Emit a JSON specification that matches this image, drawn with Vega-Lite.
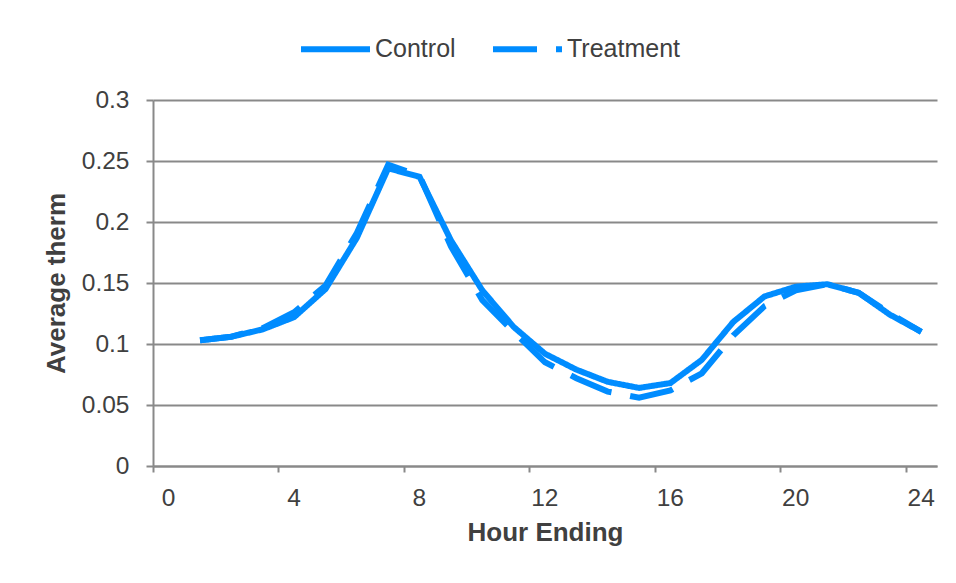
{
  "$schema": "https://vega.github.io/schema/vega-lite/v6.json",
  "autosize": {"type": "none"},
  "width": 784,
  "height": 366,
  "padding": {"left": 153, "top": 100, "right": 19, "bottom": 117},
  "background": "white",
  "config": {
    "view": {"stroke": null},
    "font": "Liberation Sans"
  },
  "data": {
    "values": [
      {"hour": 1, "series": "Control", "therm": 0.103},
      {"hour": 2, "series": "Control", "therm": 0.106},
      {"hour": 3, "series": "Control", "therm": 0.112},
      {"hour": 4, "series": "Control", "therm": 0.122},
      {"hour": 5, "series": "Control", "therm": 0.145},
      {"hour": 6, "series": "Control", "therm": 0.187},
      {"hour": 7, "series": "Control", "therm": 0.244},
      {"hour": 8, "series": "Control", "therm": 0.237},
      {"hour": 9, "series": "Control", "therm": 0.185},
      {"hour": 10, "series": "Control", "therm": 0.144},
      {"hour": 11, "series": "Control", "therm": 0.114},
      {"hour": 12, "series": "Control", "therm": 0.092},
      {"hour": 13, "series": "Control", "therm": 0.079},
      {"hour": 14, "series": "Control", "therm": 0.069},
      {"hour": 15, "series": "Control", "therm": 0.064},
      {"hour": 16, "series": "Control", "therm": 0.068},
      {"hour": 17, "series": "Control", "therm": 0.087},
      {"hour": 18, "series": "Control", "therm": 0.118},
      {"hour": 19, "series": "Control", "therm": 0.139},
      {"hour": 20, "series": "Control", "therm": 0.147},
      {"hour": 21, "series": "Control", "therm": 0.149},
      {"hour": 22, "series": "Control", "therm": 0.142},
      {"hour": 23, "series": "Control", "therm": 0.124},
      {"hour": 24, "series": "Control", "therm": 0.110},
      {"hour": 1, "series": "Treatment", "therm": 0.103},
      {"hour": 2, "series": "Treatment", "therm": 0.106},
      {"hour": 3, "series": "Treatment", "therm": 0.113},
      {"hour": 4, "series": "Treatment", "therm": 0.126},
      {"hour": 5, "series": "Treatment", "therm": 0.148},
      {"hour": 6, "series": "Treatment", "therm": 0.191},
      {"hour": 7, "series": "Treatment", "therm": 0.247},
      {"hour": 8, "series": "Treatment", "therm": 0.238},
      {"hour": 9, "series": "Treatment", "therm": 0.180},
      {"hour": 10, "series": "Treatment", "therm": 0.136},
      {"hour": 11, "series": "Treatment", "therm": 0.110},
      {"hour": 12, "series": "Treatment", "therm": 0.085},
      {"hour": 13, "series": "Treatment", "therm": 0.072},
      {"hour": 14, "series": "Treatment", "therm": 0.061},
      {"hour": 15, "series": "Treatment", "therm": 0.056},
      {"hour": 16, "series": "Treatment", "therm": 0.062},
      {"hour": 17, "series": "Treatment", "therm": 0.076},
      {"hour": 18, "series": "Treatment", "therm": 0.107},
      {"hour": 19, "series": "Treatment", "therm": 0.131},
      {"hour": 20, "series": "Treatment", "therm": 0.144},
      {"hour": 21, "series": "Treatment", "therm": 0.149},
      {"hour": 22, "series": "Treatment", "therm": 0.142},
      {"hour": 23, "series": "Treatment", "therm": 0.125},
      {"hour": 24, "series": "Treatment", "therm": 0.110}
    ]
  },
  "mark": {"type": "line", "color": "#008CFF", "strokeWidth": 6, "clip": false},
  "encoding": {
    "x": {
      "field": "hour",
      "type": "quantitative",
      "scale": {"domain": [-0.5, 24.5], "nice": false, "zero": false},
      "axis": {
        "title": "Hour Ending",
        "values": [-0.5, 3.5, 7.5, 11.5, 15.5, 19.5, 23.5],
        "labelExpr": "format(datum.value + 0.5, 'd')",
        "labelAlign": "center",
        "labelOffset": 15,
        "grid": false,
        "domainColor": "#898989",
        "domainWidth": 2,
        "tickColor": "#898989",
        "tickWidth": 2,
        "tickSize": 6,
        "labelFontSize": 24.5,
        "labelColor": "#404040",
        "labelPadding": 14,
        "labelFlush": false,
        "labelOverlap": false,
        "titleFontSize": 26,
        "titleFontWeight": "bold",
        "titleColor": "#404040",
        "titlePadding": 10
      }
    },
    "y": {
      "field": "therm",
      "type": "quantitative",
      "scale": {"domain": [0, 0.3], "nice": false},
      "axis": {
        "title": "Average therm",
        "values": [0, 0.05, 0.1, 0.15, 0.2, 0.25, 0.3],
        "format": "~g",
        "grid": true,
        "gridColor": "#898989",
        "gridWidth": 2,
        "domainColor": "#898989",
        "domainWidth": 2,
        "tickColor": "#898989",
        "tickWidth": 2,
        "tickSize": 7,
        "labelFontSize": 24.5,
        "labelColor": "#404040",
        "labelPadding": 17,
        "labelFlush": false,
        "labelOverlap": false,
        "titleFontSize": 26,
        "titleFontWeight": "bold",
        "titleColor": "#404040",
        "titlePadding": 12
      }
    },
    "strokeDash": {
      "field": "series",
      "type": "nominal",
      "scale": {"domain": ["Control", "Treatment"], "range": [[1, 0], [44, 19]]},
      "legend": {
        "title": null,
        "orient": "none",
        "direction": "horizontal",
        "legendX": 145,
        "legendY": -88.5,
        "padding": 0,
        "symbolType": "stroke",
        "symbolSize": 4761,
        "symbolStrokeWidth": 6,
        "symbolStrokeColor": "#008CFF",
        "labelFontSize": 25,
        "labelColor": "#404040",
        "labelOffset": 2,
        "columnPadding": 25
      }
    }
  }
}
